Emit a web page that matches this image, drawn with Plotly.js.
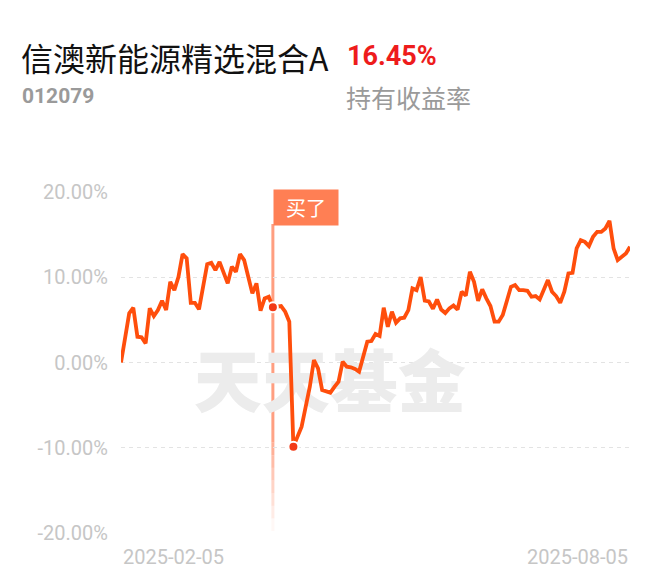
<!DOCTYPE html>
<html>
<head>
<meta charset="utf-8">
<script src="https://cdn.plot.ly/plotly-3.0.1.min.js"></script>
<style>
  html, body { margin: 0; padding: 0; background: #ffffff; }
  #chart { width: 660px; height: 585px; }
</style>
</head>
<body>
<div id="chart"></div>
<script>
// ---- data ----
const fundName = "信澳新能源精选混合A";
const fundCode = "012079";
const holdReturnText = "16.45%";
const holdReturnLabel = "持有收益率";
const buyLabel = "买了";
const watermark = "天天基金";
const dateLabels = ["2025-02-05", "2025-08-05"];
const yTickValues = [-20, -10, 0, 10, 20];
const yTickLabels = ["-20.00%", "-10.00%", "0.00%", "10.00%", "20.00%"];
// cumulative return (%) for each trading day, 2025-02-05 .. 2025-08-05
const returns = [
  0.00, 2.87, 5.77, 6.43, 3.03, 2.96, 2.25, 6.36, 5.45, 6.16,
  7.25, 6.16, 9.48, 8.50, 10.06, 12.73, 12.22, 7.01, 7.01, 6.24,
  8.89, 11.55, 11.71, 10.85, 11.82, 10.65, 9.29, 11.24, 10.65, 12.73,
  12.02, 10.06, 8.12, 9.29, 6.08, 7.53, 7.72, 6.50, 6.57, 6.63,
  5.96, 4.79, -9.88, -8.74, -7.53, -5.18, -2.84, 0.29, -0.68, -3.23,
  -3.40, -3.54, -2.87, -2.25, 0.09, -0.49, -0.56, -0.76, -1.08, 0.68,
  2.44, 2.52, 3.34, 3.11, 6.43, 4.20, 5.96, 4.67, 5.18, 5.26,
  6.16, 8.70, 8.50, 10.03, 7.27, 7.16, 6.30, 7.41, 6.22, 5.81,
  6.36, 6.69, 6.22, 8.31, 7.86, 10.65, 9.48, 7.25, 8.59, 7.53,
  6.63, 4.79, 4.79, 5.57, 7.13, 8.89, 9.09, 8.50, 8.50, 8.42,
  7.72, 7.80, 7.41, 8.54, 9.68, 8.31, 7.80, 7.01, 8.31, 10.46,
  10.53, 13.40, 14.37, 14.17, 13.67, 14.76, 15.34, 15.34, 15.74, 16.63,
  13.40, 12.02, 12.49, 12.81, 13.58
];
const buyIndex = 37;   // day the fund was bought
const lowIndex = 42;   // lowest point after buying

// ---- layout helpers ----
const W = 660, H = 585;
const M = { l: 121, r: 30, t: 192, b: 52 };
const PW = W - M.l - M.r, PH = H - M.t - M.b;
const px = x => (x - M.l) / PW;            // page pixel -> paper x
const py = y => (H - M.b - y) / PH;        // page pixel -> paper y

const xs = returns.map((_, i) => i);
const lastIndex = returns.length - 1;
const FONT = "Roboto, 'Noto Sans CJK SC', sans-serif";
const CJK = "'Noto Sans CJK SC', sans-serif";

const traces = [
  { // watermark, drawn first so it sits behind the line
    x: [lastIndex * 0.41], y: [-3.2], mode: "text", text: [watermark],
    textfont: { family: CJK, size: 68, color: "#ececec", weight: 900 },
    hoverinfo: "skip", showlegend: false
  },
  {
    x: xs, y: returns, mode: "lines",
    line: { color: "#FF4E0C", width: 3.8, shape: "linear" },
    hoverinfo: "skip", showlegend: false
  },
  {
    x: [buyIndex, lowIndex], y: [returns[buyIndex], returns[lowIndex]],
    mode: "markers",
    marker: { color: "#F23A17", size: 10, line: { color: "#ffffff", width: 2 } },
    cliponaxis: false, hoverinfo: "skip", showlegend: false
  }
];

// vertical "bought" line with a fade towards the bottom
const shapes = [];
const vTop = py(224), vSolidEnd = py(430), vBottom = py(531);
shapes.push({ type: "line", xref: "x", yref: "paper", x0: buyIndex, x1: buyIndex,
  y0: vSolidEnd, y1: vTop, line: { color: "#FF9E80", width: 3 }, layer: "below" });
const steps = 8;
for (let k = 0; k < steps; k++) {
  const a = vSolidEnd - (vSolidEnd - vBottom) * k / steps;
  const b = vSolidEnd - (vSolidEnd - vBottom) * (k + 1) / steps;
  shapes.push({ type: "line", xref: "x", yref: "paper", x0: buyIndex, x1: buyIndex,
    y0: b, y1: a, opacity: 1 - (k + 0.5) / steps,
    line: { color: "#FF9E80", width: 3 }, layer: "below" });
}

const annotations = [
  { xref: "paper", yref: "paper", x: px(19), y: py(57), xanchor: "left", yanchor: "middle",
    text: fundName, showarrow: false, font: { family: CJK, size: 32, color: "#111111" } },
  { xref: "paper", yref: "paper", x: px(345), y: py(56), xanchor: "left", yanchor: "middle",
    text: holdReturnText, showarrow: false,
    font: { family: FONT, size: 27, color: "#EE1C1C", weight: 700 } },
  { xref: "paper", yref: "paper", x: px(20), y: py(96), xanchor: "left", yanchor: "middle",
    text: fundCode, showarrow: false,
    font: { family: FONT, size: 21, color: "#9a9a9a", weight: 700 } },
  { xref: "paper", yref: "paper", x: px(344), y: py(97), xanchor: "left", yanchor: "middle",
    text: holdReturnLabel, showarrow: false, font: { family: CJK, size: 25, color: "#9a9a9a" } },
  { xref: "x", yref: "paper", x: 0, y: py(557), xanchor: "left", yanchor: "middle",
    text: dateLabels[0], showarrow: false, font: { family: FONT, size: 20, color: "#c6c6c6" } },
  { xref: "x", yref: "paper", x: lastIndex, y: py(557), xanchor: "right", yanchor: "middle",
    text: dateLabels[1], showarrow: false, font: { family: FONT, size: 20, color: "#c6c6c6" } },
  { xref: "x", yref: "paper", x: buyIndex, y: py(189), xanchor: "left", yanchor: "top",
    text: buyLabel, showarrow: false, bgcolor: "#FF7F54", borderpad: 2,
    width: 60, height: 31, align: "center",
    font: { family: CJK, size: 20, color: "#ffffff" } }
];

const layout = {
  width: W, height: H,
  margin: M,
  paper_bgcolor: "#ffffff", plot_bgcolor: "#ffffff",
  showlegend: false, hovermode: false,
  xaxis: {
    range: [0, lastIndex], showgrid: false, zeroline: false, showline: false,
    showticklabels: false, ticks: "", fixedrange: true
  },
  yaxis: {
    range: [-20.02, 20.02], tickvals: yTickValues, ticktext: yTickLabels,
    showgrid: true, gridcolor: "#e3e3e3", gridwidth: 1, griddash: "4px,4px",
    zeroline: false, showline: false, ticks: "", ticklabelstandoff: 12,
    tickfont: { family: FONT, size: 20, color: "#c6c6c6" }, fixedrange: true
  },
  shapes: shapes,
  annotations: annotations
};

Plotly.newPlot("chart", traces, layout, { displayModeBar: false, staticPlot: true });
</script>
</body>
</html>
